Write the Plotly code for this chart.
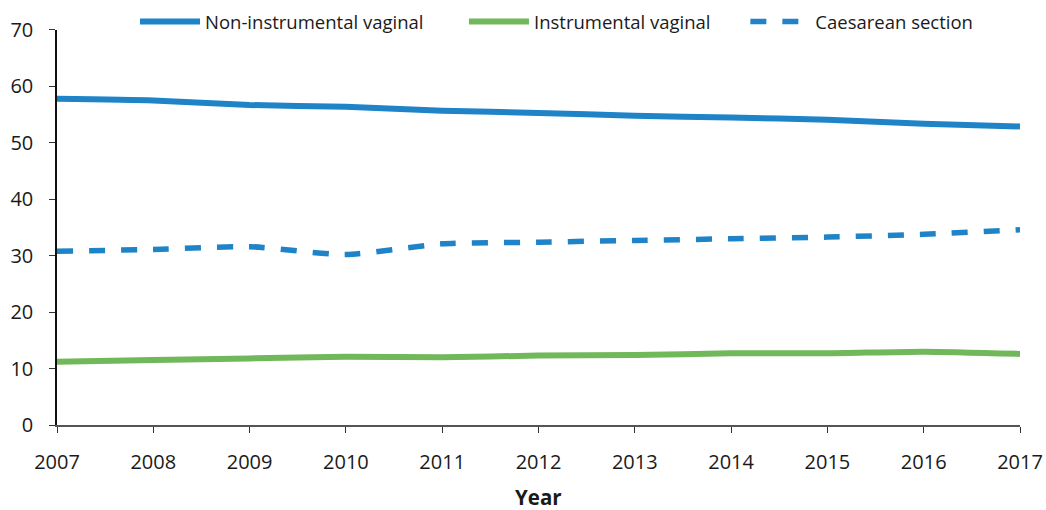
import plotly.graph_objects as go

years = list(range(2007, 2018))
non_instrumental = [57.8, 57.5, 56.7, 56.4, 55.7, 55.3, 54.8, 54.5, 54.1, 53.4, 52.9]
instrumental = [11.2, 11.5, 11.8, 12.1, 12.0, 12.3, 12.4, 12.7, 12.7, 13.0, 12.6]
caesarean = [30.8, 31.1, 31.6, 30.2, 32.1, 32.4, 32.7, 33.0, 33.3, 33.8, 34.6]

BLUE = "#1f83c7"
GREEN = "#70b85a"
TEXT = "#1a1a1a"
FONT = "Open Sans, sans-serif"

fig = go.Figure()
fig.add_trace(go.Scatter(
    x=years, y=non_instrumental, mode="lines", name="Non-instrumental vaginal",
    line=dict(color=BLUE, width=6, shape="spline", smoothing=0.6), legend="legend",
))
fig.add_trace(go.Scatter(
    x=years, y=instrumental, mode="lines", name="Instrumental vaginal",
    line=dict(color=GREEN, width=6, shape="spline", smoothing=0.6), legend="legend2",
))
fig.add_trace(go.Scatter(
    x=years, y=caesarean, mode="lines", name="Caesarean section",
    line=dict(color=BLUE, width=5.5, dash="16px,16px", shape="spline", smoothing=0.6),
    legend="legend3",
))

leg = dict(y=0.9595, yanchor="middle", xanchor="left", font=dict(size=18.5),
           itemwidth=60, bgcolor="rgba(0,0,0,0)", orientation="h")

fig.update_layout(
    width=1046, height=510,
    paper_bgcolor="white", plot_bgcolor="white",
    font=dict(family=FONT, color=TEXT, size=20),
    margin=dict(l=57, r=26, t=5, b=85, autoexpand=False),
    showlegend=True,
    legend=dict(leg, x=0.081),
    legend2=dict(leg, x=0.4226),
    legend3=dict(leg, x=0.7148),
    xaxis=dict(
        range=[2007, 2017], tickmode="array", tickvals=years, automargin=False,
        showgrid=False, zeroline=False, showline=True, linecolor="#555555", linewidth=2,
        ticks="outside", ticklen=6, tickcolor="#333333", ticklabelstandoff=12,
    ),
    yaxis=dict(
        range=[0, 70], dtick=10, showgrid=False, zeroline=False, domain=[0, 0.9405],
        showline=True, linecolor="#111111", linewidth=1.5, automargin=False,
        ticks="outside", ticklen=6, tickcolor="#333333", ticklabelstandoff=12,
    ),
    annotations=[dict(
        text="<b>Year</b>", xref="paper", yref="paper", x=0.5, y=-0.171,
        xanchor="center", yanchor="middle", showarrow=False, font=dict(size=20.5),
    )],
)

# page body has a default 8px margin; drop it so the figure fills the window
fig.write_html("out.html", config={"displayModeBar": False},
               post_script="document.body.style.margin='0';")
